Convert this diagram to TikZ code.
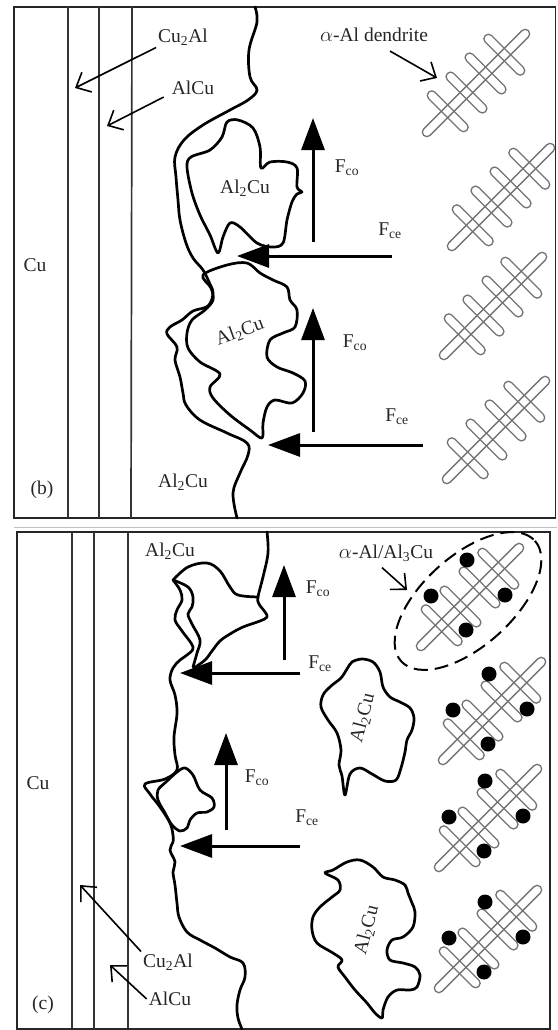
\documentclass[tikz,border=0pt]{standalone}
\usepackage{fontspec}
\setmainfont{Liberation Serif}
\usetikzlibrary{arrows.meta,calc}

% alpha-Al dendrite: one stalk and four side arms, tilted by 45 degrees
\newcommand{\dendrite}[2]{%
  \begin{scope}[shift={(#1,#2)},rotate=-45]
    \draw[arm] (-74,-4.5) rectangle (74,4.5);
    \foreach \s in {-40,-13.5,13.5,40}
      \draw[arm] (\s-4.5,-27) rectangle (\s+4.5,27);
  \end{scope}}
% Al3Cu particles round a dendrite
\newcommand{\alcudots}[2]{%
  \fill (#1-3,#2-37) circle (7.5);
  \fill (#1-39,#2-1) circle (7.5);
  \fill (#1+35,#2-2) circle (7.5);
  \fill (#1-4,#2+33) circle (7.5);}

\begin{document}
\begin{tikzpicture}[x=1pt,y=1pt,yscale=-1,
    panel/.style={draw=black!85, line width=1.8},
    layer/.style={draw=black!80, line width=1.7},
    edge/.style={line width=2.7, line join=round, line cap=round},
    force/.style={line width=3, -{Triangle[length=32pt,width=23pt]}},
    lbl/.style={font=\fontsize{19.5}{21}\selectfont, text=black!85, inner sep=2pt},
    lblarrow/.style={line width=1.6, -{Straight Barb[length=12pt,width=22pt]}},
    arm/.style={draw=black!55, line width=1.3, rounded corners=4.4}]
    \useasboundingbox (0,0) rectangle (557,1030);

    %%%%%%%%%%%%%%%%%%%%%%%%%%%% panel (b)
    \draw[panel] (14,7) rectangle (555.5,518);
    %Layers: Cu | Cu2Al | AlCu
    \draw[layer] (68,7) -- (68,518);
    \draw[layer] (99,7) -- (99,518);
    \draw[layer] (132,7) -- (131,518);

    %Interface with the melt
    \draw[edge] plot[smooth, tension=0.6] coordinates {(255,7) (257,22) (249,50) (250,77) (257,90) (248,100) (230,110) (203,125) (184,140) (175,157) (176,177) (178,200) (180,220) (186,243) (193,258) (203,270) (209,282) (213,293) (208,306) (193,311) (182,320) (170,327) (167,334) (177,347) (175,360) (180,377) (183,393) (186,405) (200,420) (227,433) (247,443) (248,455) (240,473) (233,493) (237,518)};
    %Shape: Al2Cu particle, upper
    \draw[edge] plot[smooth cycle, tension=0.55] coordinates {(218,253) (210,235) (200,215) (192,193) (187,167) (191,157) (210,150) (222,137) (227,122) (238,120) (253,128) (260,147) (261,168) (270,162) (287,162) (297,168) (297,187) (302,192) (297,194) (292,202) (287,220) (283,243) (272,247) (257,243) (240,227) (230,223) (223,237)};
    %Shape: Al2Cu particle, lower
    \draw[edge] plot[smooth cycle, tension=0.55] coordinates {(203,275) (227,265) (247,263) (260,273) (273,280) (287,287) (290,300) (297,310) (295,327) (283,333) (270,340) (267,357) (277,367) (293,373) (305,381) (303,393) (292,403) (275,400) (267,407) (263,423) (262,438) (250,430) (230,415) (213,398) (210,387) (220,374) (200,362) (188,348) (187,333) (192,320) (205,310) (213,300) (211,288)};

    %Forces on the particles
    \coordinate (fco1-b-base) at (313,242);
    \coordinate (fco1-b-tip) at (313,118);
    \coordinate (fce1-b-base) at (392,256);
    \coordinate (fce1-b-tip) at (237,256);
    \coordinate (fco2-b-base) at (313,432);
    \coordinate (fco2-b-tip) at (313,308);
    \coordinate (fce2-b-base) at (423,445);
    \coordinate (fce2-b-tip) at (268,445);
    \draw[force] (fco1-b-base) -- (fco1-b-tip);
    \draw[force] (fce1-b-base) -- (fce1-b-tip);
    \draw[force] (fco2-b-base) -- (fco2-b-tip);
    \draw[force] (fce2-b-base) -- (fce2-b-tip);

    %Dendrites
    \dendrite{476}{83}
    \dendrite{501}{197}
    \dendrite{493}{306}
    \dendrite{496}{430}

    % Text Node
    \node[lbl] (cu-b) at (35,265) {Cu};
    \node[lbl] (panel-b) at (42,490) {(b)};
    \node[lbl] (cu2al-b) at (183,37) {Cu\textsubscript{2}Al};
    \node[lbl] (alcu-b) at (193,88) {AlCu};
    \node[lbl] (dendrite-b) at (374,35) {$\alpha$-Al dendrite};
    \node[lbl] (al2cu1-b) at (245,188) {Al\textsubscript{2}Cu};
    \node[lbl, rotate=20] (al2cu2-b) at (240,332) {Al\textsubscript{2}Cu};
    \node[lbl] (al2cu3-b) at (183,482) {Al\textsubscript{2}Cu};
    \node[lbl] (fco1-b) at (347,168) {F\textsubscript{co}};
    \node[lbl] (fce1-b) at (390,231) {F\textsubscript{ce}};
    \node[lbl] (fco2-b) at (355,343) {F\textsubscript{co}};
    \node[lbl] (fce2-b) at (397,417) {F\textsubscript{ce}};
    %Pointers
    \coordinate (cu2al-b-tip) at (75,88);
    \coordinate (alcu-b-tip) at (107,126);
    \coordinate (dendrite-b-tip) at (437,78);
    \draw[lblarrow] (cu2al-b.south west) -- (cu2al-b-tip);
    \draw[lblarrow] ($(alcu-b.south west)+(-6,0)$) -- (alcu-b-tip);
    \draw[lblarrow] ($(dendrite-b.south)+(16,7)$) -- (dendrite-b-tip);

    %Sheet edge between the panels
    \draw[black!25, line width=1] (14,527) -- (557,527);

    %%%%%%%%%%%%%%%%%%%%%%%%%%%% panel (c)
    \draw[panel] (17,532) rectangle (550,1029);
    %Layers: Cu | Cu2Al | AlCu
    \draw[layer] (72,532) -- (72,1029);
    \draw[layer] (94,532) -- (94,1029);
    \draw[layer] (128,532) -- (128,1029);

    %Interface with the melt
    \draw[edge] plot[smooth, tension=0.6] coordinates {(267,532) (268,553) (263,577) (258,597) (259,604) (265,612) (267,617) (260,621) (243,627) (230,634) (220,641) (212,651) (205,660) (194,668)};
    \draw[edge] plot[smooth, tension=0.6] coordinates {(173,580) (180,590) (182,600) (177,610) (175,620) (182,631) (193,647) (187,655) (180,660) (173,668) (170,680) (175,695) (177,713) (174,737) (175,755) (177,770) (165,779) (145,784) (150,794) (160,807) (170,823) (173,835) (173,842) (170,850) (175,862) (173,872) (175,885) (177,903) (179,917) (187,932) (200,940) (215,948) (230,957) (243,963) (245,977) (240,990) (237,1005) (238,1018) (242,1029)};
    %Shape: Al2Cu particle on the interface, upper
    \draw[edge] plot[smooth, tension=0.6] coordinates {(258,597) (238,595) (230,587) (220,571) (207,563) (188,567) (173,580)};
    \draw[edge] plot[smooth, tension=0.6] coordinates {(173,580) (188,587) (193,597) (192,607) (188,614) (192,624) (200,640) (197,653) (193,667)};
    %Shape: Al2Cu particle on the interface, lower
    \draw[edge] plot[smooth cycle, tension=0.55] coordinates {(177,772) (185,768) (193,775) (200,790) (212,798) (214,807) (207,812) (197,813) (190,820) (187,828) (180,831) (172,825) (165,813) (158,800) (158,790) (166,782)};
    %Shape: detached Al2Cu particles
    \draw[edge] plot[smooth cycle, tension=0.55] coordinates {(352,662) (362,659) (373,662) (380,672) (383,687) (390,697) (400,702) (410,708) (414,718) (412,730) (407,740) (405,752) (401,768) (396,780) (385,781) (372,774) (360,768) (350,774) (345,795) (342,776) (339,765) (341,750) (337,733) (328,720) (321,707) (323,695) (331,686) (341,678) (347,669)};
    \draw[edge] plot[smooth cycle, tension=0.55] coordinates {(325,873) (333,870) (347,862) (360,860) (373,867) (383,877) (395,880) (405,885) (408,893) (412,903) (415,912) (413,927) (403,937) (392,940) (387,950) (390,960) (403,963) (415,967) (420,975) (417,987) (410,990) (397,990) (388,997) (383,1010) (382,1018) (375,1013) (367,1003) (355,990) (345,977) (338,967) (342,960) (333,953) (317,943) (312,930) (313,917) (320,907) (332,897) (340,890) (338,880)};

    %Forces on the particles
    \coordinate (fco1-c-base) at (284,660);
    \coordinate (fco1-c-tip) at (284,565);
    \coordinate (fce1-c-base) at (300,673);
    \coordinate (fce1-c-tip) at (180,673);
    \coordinate (fco2-c-base) at (226,830);
    \coordinate (fco2-c-tip) at (226,733);
    \coordinate (fce2-c-base) at (300,846);
    \coordinate (fce2-c-tip) at (180,846);
    \draw[force] (fco1-c-base) -- (fco1-c-tip);
    \draw[force] (fce1-c-base) -- (fce1-c-tip);
    \draw[force] (fco2-c-base) -- (fco2-c-tip);
    \draw[force] (fce2-c-base) -- (fce2-c-tip);

    %Dendrites with Al3Cu
    \dendrite{470}{597}
    \dendrite{492}{711}
    \dendrite{488}{818}
    \dendrite{488}{939}
    \alcudots{470}{597}
    \alcudots{492}{711}
    \alcudots{488}{818}
    \alcudots{488}{939}
    %Shape: Ellipse round the eutectic
    \draw[line width=2, dash pattern=on 14pt off 7pt, rotate around={-42:(468,601)}] (468,601) ellipse [x radius=90, y radius=45];

    % Text Node
    \node[lbl] (cu-c) at (38,783) {Cu};
    \node[lbl] (panel-c) at (43,1005) {(c)};
    \node[lbl] (al2cu1-c) at (170,551) {Al\textsubscript{2}Cu};
    \node[lbl, rotate=75] (al2cu2-c) at (363,718) {Al\textsubscript{2}Cu};
    \node[lbl, rotate=75] (al2cu3-c) at (367,930) {Al\textsubscript{2}Cu};
    \node[lbl] (eutectic-c) at (386,553) {$\alpha$-Al/Al\textsubscript{3}Cu};
    \node[lbl] (cu2al-c) at (168,962) {Cu\textsubscript{2}Al};
    \node[lbl] (alcu-c) at (170,999) {AlCu};
    \node[lbl] (fco1-c) at (318,589) {F\textsubscript{co}};
    \node[lbl] (fce1-c) at (320,664) {F\textsubscript{ce}};
    \node[lbl] (fco2-c) at (257,778) {F\textsubscript{co}};
    \node[lbl] (fce2-c) at (307,818) {F\textsubscript{ce}};
    %Pointers
    \coordinate (cu2al-c-tip) at (80,885);
    \coordinate (alcu-c-tip) at (110,965);
    \coordinate (eutectic-c-tip) at (407,590);
    \draw[lblarrow] (cu2al-c.north west) -- (cu2al-c-tip);
    \draw[lblarrow] (alcu-c.west) -- (alcu-c-tip);
    \draw[lblarrow] ($(eutectic-c.south)+(-4,4)$) -- (eutectic-c-tip);
\end{tikzpicture}
\end{document}
